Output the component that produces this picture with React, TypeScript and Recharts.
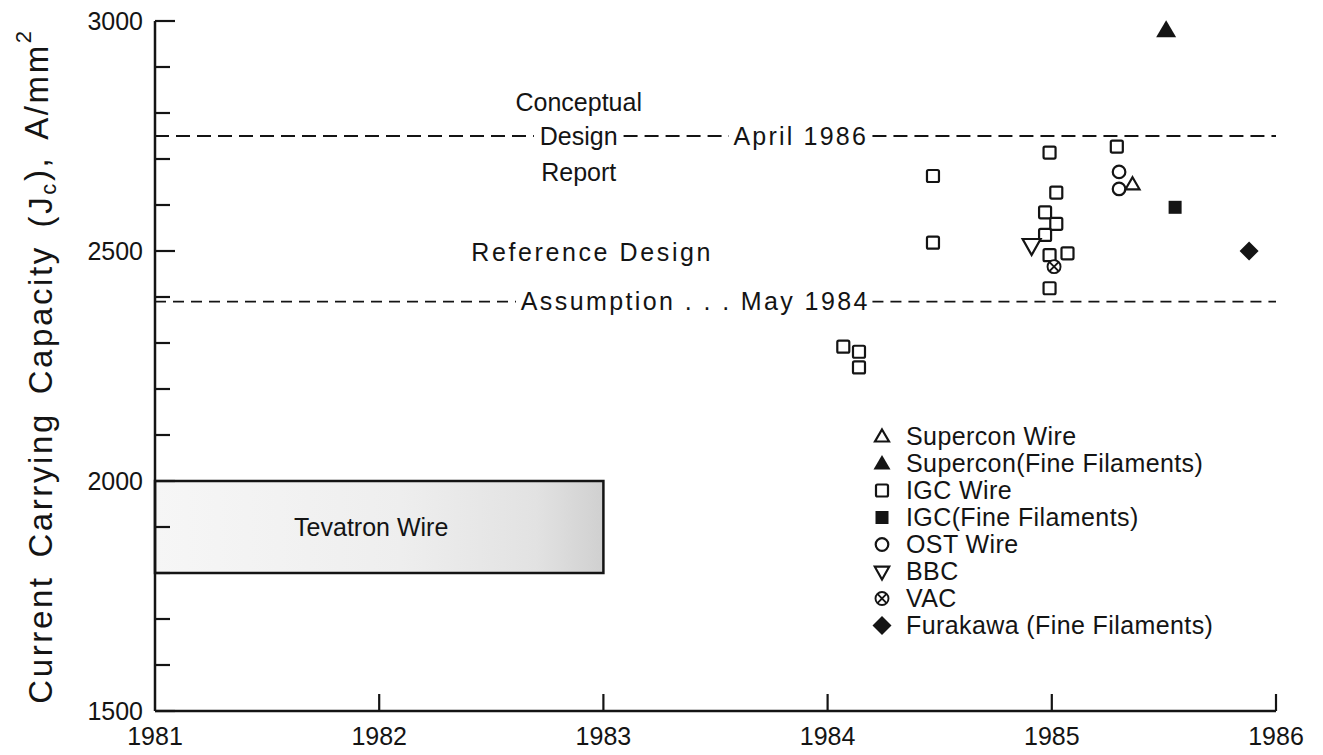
import React from 'react';
import {
  ScatterChart,
  Scatter,
  XAxis,
  YAxis,
  ReferenceLine,
  ReferenceArea,
  ReferenceDot,
  Legend,
} from 'recharts';

type Pt = { year: number; jc: number };

// values
const superconWire: Pt[] = [{ year: 1985.36, jc: 2645 }];
const superconFine: Pt[] = [{ year: 1985.51, jc: 2980 }];
const igcWire: Pt[] = [
  { year: 1984.07, jc: 2292 },
  { year: 1984.14, jc: 2281 },
  { year: 1984.14, jc: 2247 },
  { year: 1984.47, jc: 2663 },
  { year: 1984.47, jc: 2518 },
  { year: 1984.99, jc: 2714 },
  { year: 1985.02, jc: 2627 },
  { year: 1984.97, jc: 2584 },
  { year: 1985.02, jc: 2559 },
  { year: 1984.97, jc: 2535 },
  { year: 1984.99, jc: 2491 },
  { year: 1985.07, jc: 2495 },
  { year: 1984.99, jc: 2419 },
  { year: 1985.29, jc: 2727 },
];
const igcFine: Pt[] = [{ year: 1985.55, jc: 2595 }];
const ostWire: Pt[] = [
  { year: 1985.3, jc: 2672 },
  { year: 1985.3, jc: 2635 },
];
const bbc: Pt[] = [{ year: 1984.91, jc: 2513 }];
const vac: Pt[] = [{ year: 1985.01, jc: 2466 }];
const furakawa: Pt[] = [{ year: 1985.88, jc: 2500 }];

const xTicks = [1981, 1982, 1983, 1984, 1985, 1986];
const yTicks = [1500, 1600, 1700, 1800, 1900, 2000, 2100, 2200, 2300, 2400, 2500, 2600, 2700, 2800, 2900, 3000];

const CDR_LEVEL = 2750;
const RDA_LEVEL = 2390;
const tevatron = { from: 1981, to: 1983, low: 1800, high: 2000 };

const INK = '#141414';
const FONT = '"Liberation Sans", Arial, Helvetica, sans-serif';
const Y_MARGIN = 12;
const X_MARGIN = 8;

type Kind = 'triOpen' | 'triFill' | 'sqOpen' | 'sqFill' | 'circle' | 'triDown' | 'cross' | 'diamond';

function Marker({ kind, cx, cy, s = 1 }: { kind: Kind; cx: number; cy: number; s?: number }) {
  const sw = 2.2;
  switch (kind) {
    case 'triOpen':
      return <polygon points={`${cx},${cy - 7 * s} ${cx + 7 * s},${cy + 5 * s} ${cx - 7 * s},${cy + 5 * s}`} fill="white" stroke={INK} strokeWidth={sw} />;
    case 'triFill':
      return <polygon points={`${cx},${cy - 10 * s} ${cx + 10 * s},${cy + 7 * s} ${cx - 10 * s},${cy + 7 * s}`} fill={INK} />;
    case 'sqOpen':
      return <rect x={cx - 6 * s} y={cy - 6 * s} width={12 * s} height={12 * s} rx={1.5} fill="none" stroke={INK} strokeWidth={sw} />;
    case 'sqFill':
      return <rect x={cx - 6.5 * s} y={cy - 6.5 * s} width={13 * s} height={13 * s} fill={INK} />;
    case 'circle':
      return <circle cx={cx} cy={cy} r={6.3 * s} fill="none" stroke={INK} strokeWidth={sw} />;
    case 'triDown':
      return <polygon points={`${cx - 9 * s},${cy - 6 * s} ${cx + 9 * s},${cy - 6 * s} ${cx},${cy + 10 * s}`} fill="white" stroke={INK} strokeWidth={sw} />;
    case 'cross': {
      const r = 6.5 * s;
      const d = r * 0.7;
      return (
        <g stroke={INK} strokeWidth={1.9} fill="white">
          <circle cx={cx} cy={cy} r={r} />
          <line x1={cx - d} y1={cy - d} x2={cx + d} y2={cy + d} />
          <line x1={cx - d} y1={cy + d} x2={cx + d} y2={cy - d} />
        </g>
      );
    }
    case 'diamond':
      return <polygon points={`${cx},${cy - 9.5 * s} ${cx + 9.5 * s},${cy} ${cx},${cy + 9.5 * s} ${cx - 9.5 * s},${cy}`} fill={INK} />;
  }
  return null;
}

const series: { name: string; data: Pt[]; kind: Kind }[] = [
  { name: 'Supercon Wire', data: superconWire, kind: 'triOpen' },
  { name: 'Supercon(Fine Filaments)', data: superconFine, kind: 'triFill' },
  { name: 'IGC Wire', data: igcWire, kind: 'sqOpen' },
  { name: 'IGC(Fine Filaments)', data: igcFine, kind: 'sqFill' },
  { name: 'OST Wire', data: ostWire, kind: 'circle' },
  { name: 'BBC', data: bbc, kind: 'triDown' },
  { name: 'VAC', data: vac, kind: 'cross' },
  { name: 'Furakawa (Fine Filaments)', data: furakawa, kind: 'diamond' },
];

function YTick(props: any) {
  const { x, y, payload } = props;
  const v = payload.value as number;
  const major = v % 500 === 0;
  const ax = x + Y_MARGIN;
  return (
    <g>
      <line x1={ax} x2={ax + (major ? 20 : 15)} y1={y} y2={y} stroke={INK} strokeWidth={2.2} />
      {major && (
        <text x={x} y={y} dy="0.36em" textAnchor="end" fontSize={25} fill={INK} fontFamily={FONT}>
          {v}
        </text>
      )}
    </g>
  );
}

function XTick(props: any) {
  const { x, y, payload, index } = props;
  const ay = y - X_MARGIN;
  return (
    <g>
      {index > 0 && <line x1={x} x2={x} y1={ay} y2={ay - 17} stroke={INK} strokeWidth={2.2} />}
      <text x={x} y={y} dy="1.05em" textAnchor="middle" fontSize={25} fill={INK} fontFamily={FONT}>
        {payload.value}
      </text>
    </g>
  );
}

function YLabel(props: any) {
  const vb = props.viewBox || {};
  const cx = (vb.x ?? 0) + 40;
  const cy = (vb.y ?? 0) + (vb.height ?? 0) / 2;
  return (
    <text
      x={cx}
      y={cy}
      transform={`rotate(-90 ${cx} ${cy})`}
      textAnchor="middle"
      dominantBaseline="central"
      fontSize={33}
      letterSpacing={2.6}
      wordSpacing={6}
      fill={INK}
      fontFamily={FONT}
    >
      Current Carrying Capacity (J
      <tspan fontSize={22} dy="0.35em">c</tspan>
      <tspan dy="-0.35em">), A/mm</tspan>
      <tspan fontSize={22} dy="-0.6em">2</tspan>
    </text>
  );
}

function TevatronShape(props: any) {
  const { x, y, width, height } = props;
  return (
    <g>
      <defs>
        <linearGradient id="tevFill" x1="0" x2="1" y1="0" y2="0">
          <stop offset="0" stopColor="#f6f6f6" />
          <stop offset="0.55" stopColor="#eeeeee" />
          <stop offset="0.85" stopColor="#e2e2e2" />
          <stop offset="1" stopColor="#d0d0d0" />
        </linearGradient>
      </defs>
      <rect x={x} y={y} width={width} height={height} fill="url(#tevFill)" stroke={INK} strokeWidth={2.5} />
    </g>
  );
}

function LegendBox() {
  return (
    <div style={{ fontFamily: FONT, fontSize: 25, color: INK, lineHeight: '27px', letterSpacing: 0.4 }}>
      {series.map((s) => (
        <div key={s.name} style={{ display: 'flex', alignItems: 'center', height: 27, whiteSpace: 'nowrap' }}>
          <svg width={32} height={27} style={{ marginRight: 10 }}>
            <Marker kind={s.kind} cx={18} cy={13.5} s={s.kind === 'triFill' ? 0.85 : s.kind === 'triDown' ? 0.8 : 1} />
          </svg>
          <span>{s.name}</span>
        </div>
      ))}
    </div>
  );
}

const textLabel = (value: string, spacing = 0) => ({
  value,
  position: 'center' as const,
  fontSize: 25,
  letterSpacing: spacing,
  fill: INK,
  fontFamily: FONT,
});

export default function App() {
  const dash = { stroke: INK, strokeWidth: 2, strokeDasharray: '14 7' };
  const dash2 = { stroke: INK, strokeWidth: 1.6, strokeDasharray: '11 7' };
  return (
    <div style={{ position: 'absolute', left: 0, top: 0, width: 1323, height: 755, background: 'white' }}>
      <ScatterChart width={1323} height={755} margin={{ top: 21, right: 47, left: 0, bottom: 4 }}>
        <XAxis
          type="number"
          dataKey="year"
          domain={[1981, 1986]}
          ticks={xTicks}
          interval={0}
          tickSize={0}
          tickMargin={X_MARGIN}
          height={40}
          tick={<XTick />}
          axisLine={{ stroke: INK, strokeWidth: 2.5 }}
          tickLine={false}
        />
        <YAxis
          type="number"
          dataKey="jc"
          domain={[1500, 3000]}
          ticks={yTicks}
          interval={0}
          width={155}
          tickSize={0}
          tickMargin={Y_MARGIN}
          tick={<YTick />}
          axisLine={{ stroke: INK, strokeWidth: 2.5 }}
          tickLine={false}
          label={{ content: <YLabel /> }}
        />

        <ReferenceArea
          x1={tevatron.from}
          x2={tevatron.to}
          y1={tevatron.low}
          y2={tevatron.high}
          shape={<TevatronShape />}
          label={{ ...textLabel('Tevatron Wire'), dx: -8 }}
        />

        {/* Conceptual Design Report, April 1986 */}
        <ReferenceLine segment={[{ x: 1981, y: CDR_LEVEL }, { x: 1982.69, y: CDR_LEVEL }]} {...dash} />
        <ReferenceLine segment={[{ x: 1983.09, y: CDR_LEVEL }, { x: 1983.56, y: CDR_LEVEL }]} {...dash} />
        <ReferenceLine segment={[{ x: 1984.2, y: CDR_LEVEL }, { x: 1986, y: CDR_LEVEL }]} {...dash} />
        <ReferenceDot x={1982.89} y={2824} r={0} stroke="none" fill="none" label={textLabel('Conceptual')} />
        <ReferenceDot x={1982.89} y={CDR_LEVEL} r={0} stroke="none" fill="none" label={textLabel('Design')} />
        <ReferenceDot x={1983.88} y={CDR_LEVEL} r={0} stroke="none" fill="none" label={textLabel('April 1986', 2.2)} />
        <ReferenceDot x={1982.89} y={2672} r={0} stroke="none" fill="none" label={textLabel('Report')} />

        {/* Reference Design Assumption, May 1984 */}
        <ReferenceLine segment={[{ x: 1981, y: RDA_LEVEL }, { x: 1982.61, y: RDA_LEVEL }]} {...dash2} />
        <ReferenceLine segment={[{ x: 1984.2, y: RDA_LEVEL }, { x: 1986, y: RDA_LEVEL }]} {...dash2} />
        <ReferenceDot x={1982.95} y={2498} r={0} stroke="none" fill="none" label={textLabel('Reference Design', 2.6)} />
        <ReferenceDot x={1983.41} y={RDA_LEVEL} r={0} stroke="none" fill="none" label={textLabel('Assumption . . . May 1984', 2.4)} />

        {series.map((s) => (
          <Scatter
            key={s.name}
            name={s.name}
            data={s.data}
            isAnimationActive={false}
            shape={(p: any) => <Marker kind={s.kind} cx={p.cx} cy={p.cy} />}
          />
        ))}

        <Legend
          layout="vertical"
          align="center"
          verticalAlign="middle"
          content={<LegendBox />}
          wrapperStyle={{ left: 864, top: 423, width: 400 }}
        />
      </ScatterChart>
    </div>
  );
}
